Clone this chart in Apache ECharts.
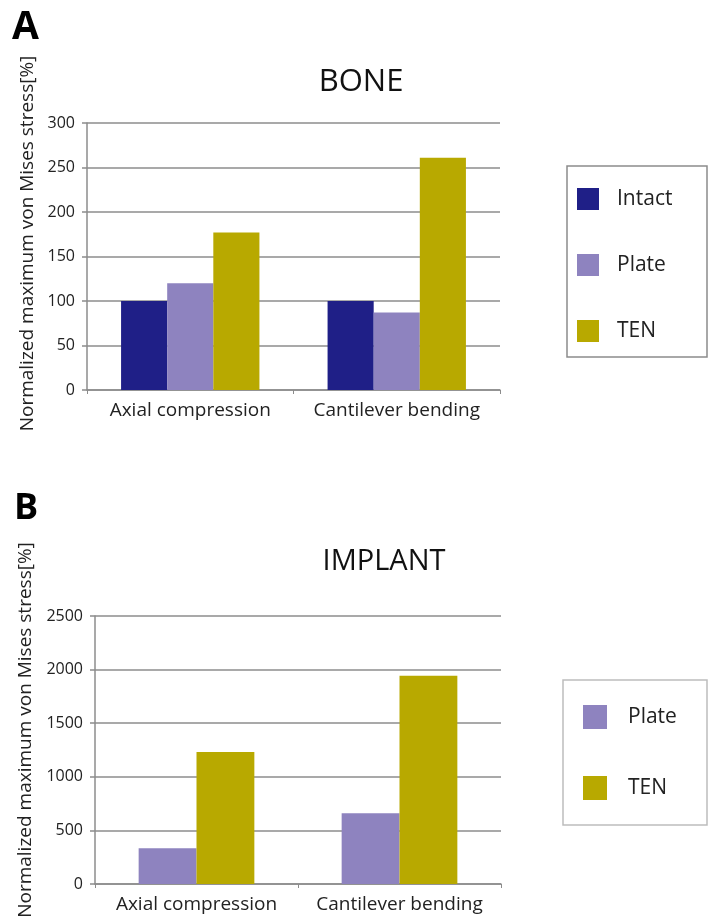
<!DOCTYPE html>
<html>
<head>
<meta charset="utf-8">
<script src="https://cdn.jsdelivr.net/npm/echarts@6/dist/echarts.min.js"></script>
<style>
html,body{margin:0;padding:0;background:#fff;}
#c{width:708px;height:918px;}
</style>
</head>
<body>
<div id="c"></div>
<script>
const categories = ['Axial compression', 'Cantilever bending'];
const boneIntact = [100, 100];
const bonePlate = [120, 87];
const boneTEN = [177, 261];
const implantPlate = [333, 659];
const implantTEN = [1231, 1943];
const boneTicks = [0, 50, 100, 150, 200, 250, 300];
const implantTicks = [0, 500, 1000, 1500, 2000, 2500];
const yName = 'Normalized maximum von Mises stress[%]';

const C_INTACT = '#1f1f87';
const C_PLATE = '#8e83bf';
const C_TEN = '#b8a900';
const FONT = 'Open Sans';

const chart = echarts.init(document.getElementById('c'), null, {renderer: 'canvas'});

function yAxis(gridIndex, ticks, gap, shift) {
  return {
    type: 'value', gridIndex: gridIndex,
    min: ticks[0], max: ticks[ticks.length - 1], interval: ticks[1] - ticks[0],
    name: yName, nameLocation: 'middle', nameGap: gap, nameRotate: 90,
    nameTextStyle: {fontFamily: FONT, fontSize: 19, color: '#222', padding: [0, 0, 0, shift]},
    axisLine: {show: true, lineStyle: {color: '#8c8c8c', width: 1.5}},
    axisTick: {show: true, length: 5, lineStyle: {color: '#8c8c8c', width: 1.5}},
    axisLabel: {fontFamily: FONT, fontSize: 16, color: '#222', margin: 12,
      formatter: function (v) { return String(v); }},
    splitLine: {show: true, lineStyle: {color: '#8c8c8c', width: 1.5}}
  };
}
function xAxis(gridIndex) {
  return {
    type: 'category', gridIndex: gridIndex, data: categories,
    axisLine: {show: true, lineStyle: {color: '#8c8c8c', width: 1.5}},
    axisTick: {show: true, length: 4, lineStyle: {color: '#8c8c8c'}},
    axisLabel: {fontFamily: FONT, fontSize: 19, color: '#222', margin: 11,
      interval: 0, hideOverlap: false}
  };
}

chart.setOption({
  animation: false,
  backgroundColor: '#fff',
  title: [
    {text: 'A', left: 7, top: 3, textStyle: {fontFamily: FONT, fontSize: 39, fontWeight: 'bold', color: '#000'}},
    {text: 'BONE', left: 356, top: 77, textAlign: 'center', textVerticalAlign: 'middle',
      textStyle: {fontFamily: FONT, fontSize: 31, fontWeight: 'normal', color: '#111'}},
    {text: 'B', left: 9, top: 486, textStyle: {fontFamily: FONT, fontSize: 36, fontWeight: 'bold', color: '#000'}},
    {text: 'IMPLANT', left: 379, top: 557, textAlign: 'center', textVerticalAlign: 'middle',
      textStyle: {fontFamily: FONT, fontSize: 29, fontWeight: 'normal', color: '#111'}}
  ],
  grid: [
    {left: 87, right: 208, top: 123, bottom: 528, outerBoundsMode: 'none', containLabel: false},
    {left: 95, right: 207, top: 616, bottom: 34, outerBoundsMode: 'none', containLabel: false}
  ],
  xAxis: [xAxis(0), xAxis(1)],
  yAxis: [yAxis(0, boneTicks, 50, 26), yAxis(1, implantTicks, 58, 40)],
  legend: [
    {orient: 'vertical', left: 572, top: 183, itemWidth: 22, itemHeight: 22, itemGap: 44,
      icon: 'rect', data: ['Intact', 'Plate', 'TEN'],
      textStyle: {fontFamily: FONT, fontSize: 21, color: '#222', padding: [0, 0, 0, 13]}},
    {orient: 'vertical', left: 578, top: 700, itemWidth: 24, itemHeight: 24, itemGap: 47,
      icon: 'rect', data: ['Plate', 'TEN'],
      textStyle: {fontFamily: FONT, fontSize: 21, color: '#222', padding: [0, 0, 0, 16]}}
  ],
  graphic: [
    {type: 'rect', shape: {x: 567, y: 166, width: 140, height: 191},
      style: {fill: 'none', stroke: '#8c8c8c', lineWidth: 1.5}, z: -1},
    {type: 'rect', shape: {x: 563, y: 680, width: 144, height: 145},
      style: {fill: 'none', stroke: '#bdbdbd', lineWidth: 1.5}, z: -1}
  ],
  series: [
    {name: 'Intact', type: 'bar', xAxisIndex: 0, yAxisIndex: 0, data: boneIntact,
      itemStyle: {color: C_INTACT}, barGap: '0%', barCategoryGap: '33%'},
    {name: 'Plate', type: 'bar', xAxisIndex: 0, yAxisIndex: 0, data: bonePlate,
      itemStyle: {color: C_PLATE}, barGap: '0%', barCategoryGap: '33%'},
    {name: 'TEN', type: 'bar', xAxisIndex: 0, yAxisIndex: 0, data: boneTEN,
      itemStyle: {color: C_TEN}, barGap: '0%', barCategoryGap: '33%'},
    {name: 'Plate', type: 'bar', xAxisIndex: 1, yAxisIndex: 1, data: implantPlate,
      itemStyle: {color: C_PLATE}, barGap: '0%', barCategoryGap: '43%'},
    {name: 'TEN', type: 'bar', xAxisIndex: 1, yAxisIndex: 1, data: implantTEN,
      itemStyle: {color: C_TEN}, barGap: '0%', barCategoryGap: '43%'}
  ]
});
</script>
</body>
</html>
